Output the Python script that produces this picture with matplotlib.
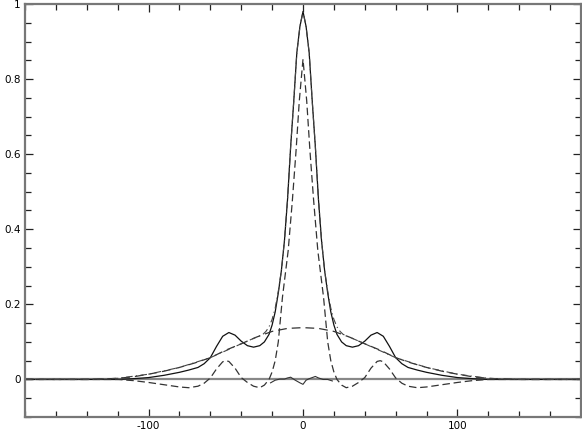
import numpy as np
import matplotlib
matplotlib.use("Agg")
import matplotlib.pyplot as plt
from matplotlib.ticker import MultipleLocator

plt.rcParams['axes.unicode_minus'] = False

# values
x_total = [-180, -120, -110, -100, -90, -80, -74, -68, -64, -60, -56, -52, -48, -44, -40, -36, -32, -28, -25,
           -22, -20, -18, -16, -14, -12, -10, -8, -6, -4, -2, 0,
           2, 4, 6, 8, 10, 12, 14, 16, 18, 20, 22, 25, 28, 32, 36, 40, 44, 48, 52, 56, 60, 64, 68, 74,
           80, 90, 100, 110, 120, 180]
y_total = [0.0, 0.0, 0.002, 0.005, 0.011, 0.019, 0.025, 0.032, 0.042, 0.058, 0.088, 0.115, 0.125, 0.118, 0.102,
           0.09, 0.086, 0.09, 0.1, 0.12, 0.145, 0.18, 0.23, 0.29, 0.37, 0.48, 0.62, 0.74, 0.87, 0.94, 0.98,
           0.94, 0.87, 0.74, 0.62, 0.48, 0.37, 0.29, 0.23, 0.18, 0.145, 0.12, 0.1, 0.09, 0.086, 0.09, 0.102,
           0.118, 0.125, 0.115, 0.088, 0.058, 0.042, 0.032, 0.025, 0.019, 0.011, 0.005, 0.002, 0.0, 0.0]

x_core = [-180, -120, -110, -100, -90, -80, -74, -68, -64, -60, -56, -52, -50, -48, -44, -40, -36, -32, -28,
          -25, -22, -20, -18, -16, -13.3, -9.6, -6.9, -4.5, -2.4, 0,
          2.4, 4.5, 6.9, 9.6, 13.3, 16, 18, 20, 22, 25, 28, 32, 36, 40, 44, 48, 50, 52, 56, 60, 64, 68,
          74, 80, 90, 100, 110, 120, 180]
y_core = [0.0, 0.0, -0.003, -0.008, -0.014, -0.02, -0.022, -0.018, -0.01, 0.004, 0.028, 0.047, 0.05, 0.048,
          0.03, 0.005, -0.008, -0.018, -0.022, -0.015, 0.0, 0.02, 0.05, 0.1, 0.219, 0.343, 0.476, 0.609,
          0.742, 0.853,
          0.742, 0.609, 0.476, 0.343, 0.219, 0.1, 0.05, 0.02, 0.0, -0.015, -0.022, -0.018, -0.008, 0.005,
          0.03, 0.048, 0.05, 0.047, 0.028, 0.004, -0.01, -0.018, -0.022, -0.02, -0.014, -0.008, -0.003,
          0.0, 0.0]

x_broad = [-180, -140, -130, -120, -110, -100, -90, -80, -70, -60, -50, -40, -30, -20, -10, 0,
           10, 20, 30, 40, 50, 60, 70, 80, 90, 100, 110, 120, 130, 140, 180]
y_broad = [0.0, 0.0, 0.001, 0.003, 0.007, 0.014, 0.022, 0.032, 0.044, 0.058, 0.078, 0.095, 0.113, 0.128,
           0.136, 0.138,
           0.136, 0.128, 0.113, 0.095, 0.078, 0.058, 0.044, 0.032, 0.022, 0.014, 0.007, 0.003, 0.001, 0.0,
           0.0]

x_env = [-180, -140, -120, -100, -80, -60, -40, -30, -26, -24, -22, -20, -18, -16, -14, -12, -10, -8, -6, -4,
         -2, 0, 2, 4, 6, 8, 10, 12, 14, 16, 18, 20, 22, 24, 26, 30, 40, 60, 80, 100, 120, 140, 180]
y_env = [0.0, 0.0, 0.003, 0.014, 0.032, 0.058, 0.095, 0.113, 0.12, 0.128, 0.14, 0.16, 0.19, 0.235, 0.29,
         0.37, 0.48, 0.62, 0.74, 0.87, 0.94, 0.98, 0.94, 0.87, 0.74, 0.62, 0.48, 0.37, 0.29, 0.235, 0.19,
         0.16, 0.14, 0.128, 0.12, 0.113, 0.095, 0.058, 0.032, 0.014, 0.003, 0.0, 0.0]

x_resid = [-21, -18, -15, -12, -10, -8, -5, -2, 0, 2, 4, 6, 8, 10, 13, 16, 19]
y_resid = [-0.009, -0.002, 0.001, 0.001, 0.004, 0.006, -0.002, -0.009, -0.013, -0.002, 0.002, 0.005, 0.008,
           0.004, 0.0, 0.0, -0.004]

fig = plt.figure(figsize=(5.82, 4.32), dpi=100)
ax = fig.add_axes([25 / 582, 15 / 432, 556 / 582, 413 / 432])

ax.axhline(0, color='#888888', lw=1.6, zorder=1)
ax.plot(x_total, y_total, color='#111111', lw=0.9)
ax.plot(x_core, y_core, color='#333333', lw=0.9, linestyle=(0, (6, 3)))
ax.plot(x_broad, y_broad, color='#333333', lw=0.9, linestyle=(0, (7, 4)))
ax.plot(x_env, y_env, color='#444444', lw=0.8, linestyle=(0, (6, 3, 1, 3)))
ax.plot(x_resid, y_resid, color='#333333', lw=0.8)

ax.set_xlim(-180, 180)
ax.set_ylim(-0.1, 1.0)
ax.xaxis.set_major_locator(MultipleLocator(100))
ax.xaxis.set_minor_locator(MultipleLocator(20))
ax.yaxis.set_major_locator(MultipleLocator(0.2))
ax.yaxis.set_minor_locator(MultipleLocator(0.05))
ax.set_yticks([0, 0.2, 0.4, 0.6, 0.8, 1.0])
ax.set_yticklabels(['0', '0.2', '0.4', '0.6', '0.8', '1'])

ax.tick_params(which='both', direction='in', top=True, right=True, color='#222222',
               labelsize=7.5, pad=3, width=0.9)
ax.tick_params(which='major', length=6)
ax.tick_params(which='minor', length=4)

for s in ax.spines.values():
    s.set_color('#777777')
    s.set_linewidth(1.6)

fig.savefig('out.png', dpi=100)
